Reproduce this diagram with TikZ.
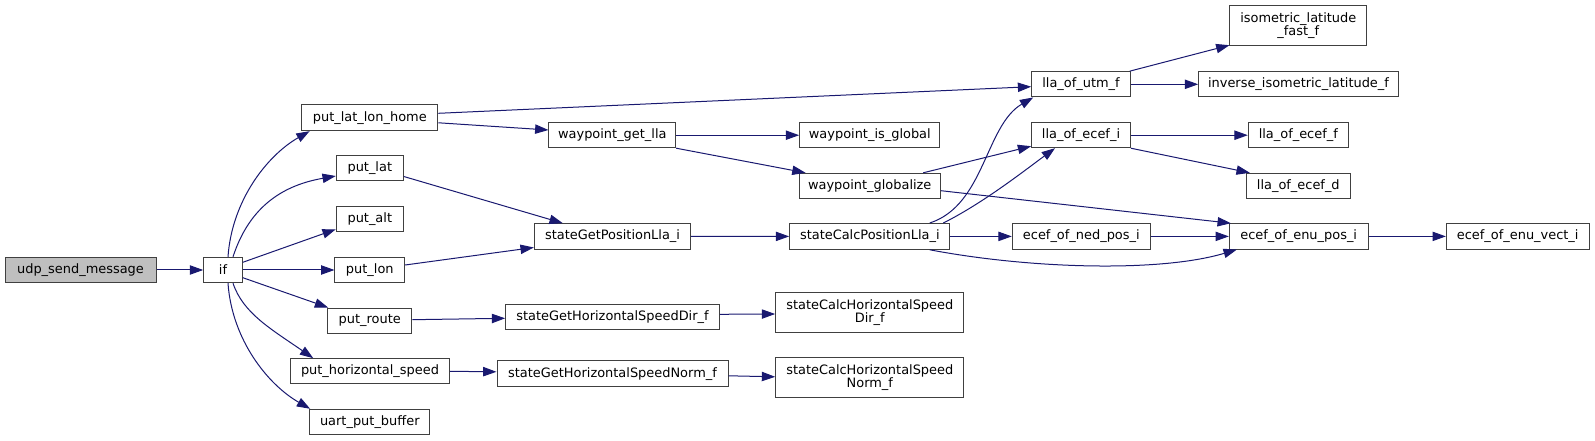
\documentclass[tikz,border=0pt]{standalone}
\usepackage{fontspec}
\setmainfont{DejaVu Sans}
\usetikzlibrary{arrows.meta,calc}
\definecolor{edgec}{HTML}{191970}
\definecolor{boxc}{HTML}{404040}
\definecolor{rootfill}{HTML}{BFBFBF}
\newcommand\fnode[7][]{\node[fn,#1,minimum width=#5*0.75pt,minimum height=#6*0.75pt] (#2) at (#3,#4) {#7};}
\begin{document}
\begin{tikzpicture}[x=0.75pt,y=-0.75pt,
  fn/.style={draw=boxc, line width=0.75pt, fill=white, inner sep=0pt,
    font=\fontsize{9.7}{10}\selectfont, text=black, align=center},
  call/.style={draw=edgec, line width=0.75pt, -{Triangle[length=10pt,width=7pt]}}]
\useasboundingbox (0,0) rectangle (1595,441);
% nodes
\fnode[fill=rootfill]{udp}{80.5}{270}{151}{25.4}{udp\_send\_message}
\fnode{if}{223}{270}{38.6}{25.4}{if}
\fnode{pllh}{369.8}{117.8}{136.3}{25.7}{put\_lat\_lon\_home}
\fnode{plat}{369.8}{168.5}{67}{25}{put\_lat}
\fnode{palt}{369.8}{219.3}{67}{25.3}{put\_alt}
\fnode{plon}{369.8}{270}{69.7}{25.4}{put\_lon}
\fnode{proute}{369.8}{320.7}{84.3}{25.3}{put\_route}
\fnode{phs}{370}{371.3}{158.6}{25.3}{put\_horizontal\_speed}
\fnode{uart}{369.8}{422}{120.3}{25.4}{uart\_put\_buffer}
\fnode{wgl}{612.3}{135.2}{126.7}{25}{waypoint\_get\_lla}
\fnode{sgpl}{612.5}{236.5}{156.4}{25.6}{stateGetPositionLla\_i}
\fnode{sghd}{612.5}{316.7}{213.6}{25.3}{stateGetHorizontalSpeedDir\_f}
\fnode{sghn}{612.5}{373.8}{231}{25.7}{stateGetHorizontalSpeedNorm\_f}
\fnode{wig}{869.8}{135.2}{140.3}{25}{waypoint\_is\_global}
\fnode{wglob}{869.7}{186}{141.3}{25.4}{waypoint\_globalize}
\fnode{scpl}{869.8}{236.4}{160.3}{25.8}{stateCalcPositionLla\_i}
\fnode{schd}{869.8}{312.7}{188.3}{40}{stateCalcHorizontalSpeed\\Dir\_f}
\fnode{schn}{869.8}{377.8}{188.3}{40.3}{stateCalcHorizontalSpeed\\Norm\_f}
\fnode{lutm}{1081}{84.3}{98.6}{25.3}{lla\_of\_utm\_f}
\fnode{lecefi}{1081}{135.2}{98.6}{25}{lla\_of\_ecef\_i}
\fnode{ened}{1081.3}{236.4}{138}{25.3}{ecef\_of\_ned\_pos\_i}
\fnode{iso}{1298.3}{25.7}{136.7}{40}{isometric\_latitude\\\_fast\_f}
\fnode{inv}{1298.5}{84.3}{199.6}{25.3}{inverse\_isometric\_latitude\_f}
\fnode{leceff}{1298.3}{135.2}{100}{25}{lla\_of\_ecef\_f}
\fnode{lecefd}{1298.3}{186}{104}{25.4}{lla\_of\_ecef\_d}
\fnode{eenu}{1298.7}{236.4}{138.7}{25.3}{ecef\_of\_enu\_pos\_i}
\fnode{eenuv}{1517.7}{236.4}{142.7}{25.3}{ecef\_of\_enu\_vect\_i}
% edges
\draw[call] (udp.east) -- (if.west);
\draw[call] ($(if.north)+(5,0)$) .. controls +(4,-57) and +(-42,24) .. ($(pllh.south west)+(8.5,0)$);
\draw[call] ($(if.north)+(10,0)$) .. controls +(17,-52) and +(-51,9) .. ($(plat.west)+(0,7.5)$);
\draw[call] ($(if.east)+(0,-7.7)$) -- ($(palt.west)+(0,10)$);
\draw[call] (if.east) -- (plon.west);
\draw[call] ($(if.east)+(0,7.7)$) -- ($(proute.north west)+(1,0)$);
\draw[call] ($(if.south)+(10,0)$) .. controls +(10,30) and +(-42,-29) .. ($(phs.north west)+(23,0)$);
\draw[call] ($(if.south)+(5,0)$) .. controls +(4,57) and +(-42,-24) .. ($(uart.north west)+(1,0)$);
\draw[call] ($(pllh.east)+(0,-4.5)$) -- ($(lutm.west)+(0,2.4)$);
\draw[call] ($(pllh.east)+(0,5)$) -- ($(wgl.west)+(0,-5.2)$);
\draw[call] (wgl.east) -- (wig.west);
\draw[call] (wgl.south east) -- ($(wglob.north west)+(7,0)$);
\draw[call] ($(plat.east)+(0,8)$) -- ($(sgpl.north west)+(29,0)$);
\draw[call] ($(plon.east)+(0,-5)$) -- ($(sgpl.west)+(0,11)$);
\draw[call] ($(proute.east)+(0,-1)$) -- ($(sghd.west)+(0,1.6)$);
\draw[call] (phs.east) -- ($(sghn.west)+(0,-2)$);
\draw[call] (sgpl.east) -- (scpl.west);
\draw[call] ($(sghd.east)+(0,-2.4)$) -- ($(schd.west)+(0,1.3)$);
\draw[call] ($(sghn.east)+(0,2)$) -- ($(schn.west)+(0,-1)$);
\draw[call] ($(scpl.north)+(60,0)$) .. controls +(55,-18) and +(-48,28) .. ($(lutm.south west)+(2,0)$);
\draw[call] ($(scpl.north)+(73.5,0)$) .. controls +(40,-20) and +(-30,22) .. ($(lecefi.south)+(-26,0)$);
\draw[call] ($(wglob.north)+(53.5,0)$) -- ($(lecefi.west)+(0,11)$);
\draw[call] ($(wglob.east)+(0,4.7)$) -- ($(eenu.north west)+(2,0)$);
\draw[call] (scpl.east) -- (ened.west);
\draw[call] (ened.east) -- (eenu.west);
\draw[call] ($(scpl.south)+(60,0)$) .. controls +(100,19) and +(-77,23) .. ($(eenu.south west)+(8,0)$);
\draw[call] ($(lutm.north east)+(-1,0)$) -- ($(iso.south west)+(0,-1)$);
\draw[call] (lutm.east) -- (inv.west);
\draw[call] (lecefi.east) -- (leceff.west);
\draw[call] (lecefi.south east) -- ($(lecefd.north west)+(4,0)$);
\draw[call] (eenu.east) -- (eenuv.west);
\end{tikzpicture}
\end{document}
